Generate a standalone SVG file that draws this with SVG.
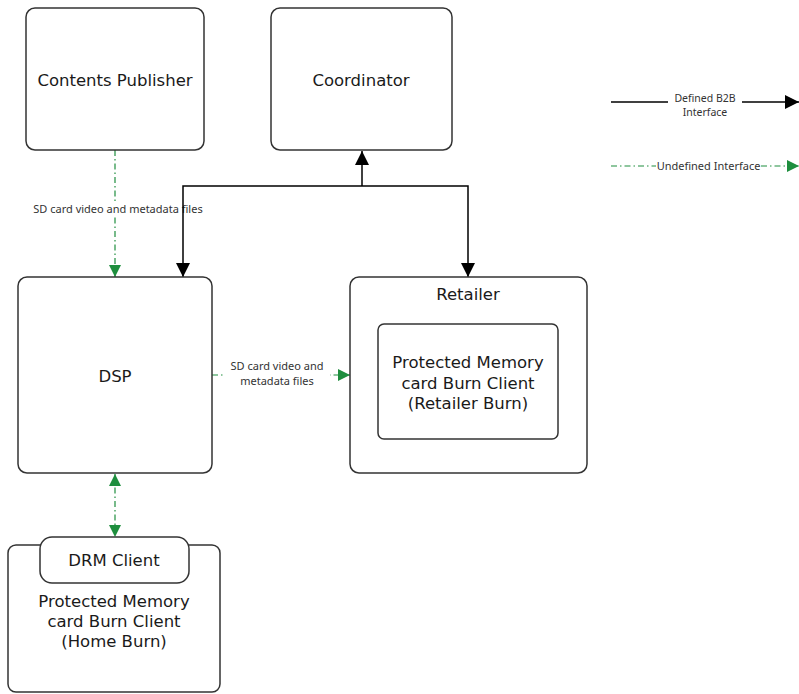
<svg xmlns="http://www.w3.org/2000/svg" width="799" height="694" viewBox="0 0 799 694">
  <style>
    .box { fill: #ffffff; stroke: #333333; stroke-width: 1.5; }
    .big { font-family: "DejaVu Sans", Verdana, sans-serif; font-size: 16.5px; fill: #1a1a1a; text-anchor: middle; }
    .small { font-family: "Noto Sans", "Open Sans", sans-serif; font-size: 11px; fill: #333333; text-anchor: middle; }
    .legend { font-size: 10.5px; }
    .solid { fill: none; stroke: #000000; stroke-width: 1.5; }
    .dashdot { fill: none; stroke: #1e8e3e; stroke-width: 1.2; stroke-dasharray: 6 3 1.5 3; }
    .lblbg { fill: #ffffff; }
  </style>
  <defs>
    <marker id="blackArrowBig" viewBox="0 0 10 10" refX="10" refY="5" markerWidth="14" markerHeight="14" markerUnits="userSpaceOnUse" orient="auto">
      <path d="M0,0 L10,5 L0,10 Z" fill="#000000"/>
    </marker>
    <marker id="greenArrow" viewBox="0 0 10 10" refX="10" refY="5" markerWidth="12" markerHeight="12" markerUnits="userSpaceOnUse" orient="auto">
      <path d="M0,0 L10,5 L0,10 Z" fill="#1e8e3e"/>
    </marker>
    <marker id="greenArrowStart" viewBox="0 0 10 10" refX="0" refY="5" markerWidth="12" markerHeight="12" markerUnits="userSpaceOnUse" orient="auto">
      <path d="M10,0 L0,5 L10,10 Z" fill="#1e8e3e"/>
    </marker>
  </defs>

  <!-- connectors -->
  <g id="connectors">
    <!-- publisher to DSP -->
    <path class="dashdot" d="M115,150 V277" marker-end="url(#greenArrow)"/>
    <rect class="lblbg" x="30" y="201" width="176" height="16"/>
    <text class="small" x="118" y="213">SD card video and metadata files</text>

    <!-- coordinator bus -->
    <path class="solid" d="M362,186 V151" marker-end="url(#blackArrowBig)"/>
    <path class="solid" d="M362,186 H183 V277" marker-end="url(#blackArrowBig)"/>
    <path class="solid" d="M362,186 H468 V277" marker-end="url(#blackArrowBig)"/>

    <!-- DSP to retailer -->
    <path class="dashdot" d="M212,375 H350" marker-end="url(#greenArrow)"/>
    <rect class="lblbg" x="224" y="358" width="106" height="31"/>
    <text class="small" x="277" y="370">SD card video and</text>
    <text class="small" x="277" y="385">metadata files</text>

    <!-- DSP to DRM client -->
    <path class="dashdot" d="M115,474 V537" marker-start="url(#greenArrowStart)" marker-end="url(#greenArrow)"/>
  </g>

  <!-- legend -->
  <g id="legend">
    <path class="solid" d="M611,102 H668"/>
    <path class="solid" d="M742,102 H799" marker-end="url(#blackArrowBig)"/>
    <text class="small legend" x="705" y="101.5">Defined B2B</text>
    <text class="small legend" x="705" y="116">Interface</text>
    <path class="dashdot" d="M611,166 H656"/>
    <path class="dashdot" d="M761,166 H799" marker-end="url(#greenArrow)"/>
    <text class="small" x="708.5" y="170">Undefined Interface</text>
  </g>

  <g id="contents-publisher">
    <rect class="box" x="26" y="8" width="178" height="142" rx="9"/>
    <text class="big" x="115" y="86">Contents Publisher</text>
  </g>

  <g id="coordinator">
    <rect class="box" x="271" y="8" width="181" height="142" rx="9"/>
    <text class="big" x="361" y="86">Coordinator</text>
  </g>

  <g id="dsp">
    <rect class="box" x="18" y="277" width="194" height="196" rx="9"/>
    <text class="big" x="115" y="382">DSP</text>
  </g>

  <g id="retailer">
    <rect class="box" x="350" y="277" width="237" height="196" rx="9"/>
    <text class="big" x="468" y="300">Retailer</text>
  </g>

  <g id="retailer-burn">
    <rect class="box" x="378" y="324" width="180" height="115" rx="6"/>
    <text class="big" x="468" y="368">Protected Memory</text>
    <text class="big" x="468" y="388.5">card Burn Client</text>
    <text class="big" x="468" y="409">(Retailer Burn)</text>
  </g>

  <g id="home-burn">
    <rect class="box" x="8" y="545" width="212" height="147" rx="8"/>
    <text class="big" x="114" y="607">Protected Memory</text>
    <text class="big" x="114" y="627">card Burn Client</text>
    <text class="big" x="114" y="647">(Home Burn)</text>
  </g>

  <g id="drm-client">
    <rect class="box" x="40" y="537" width="149" height="46" rx="12"/>
    <text class="big" x="114" y="566">DRM Client</text>
  </g>
</svg>
